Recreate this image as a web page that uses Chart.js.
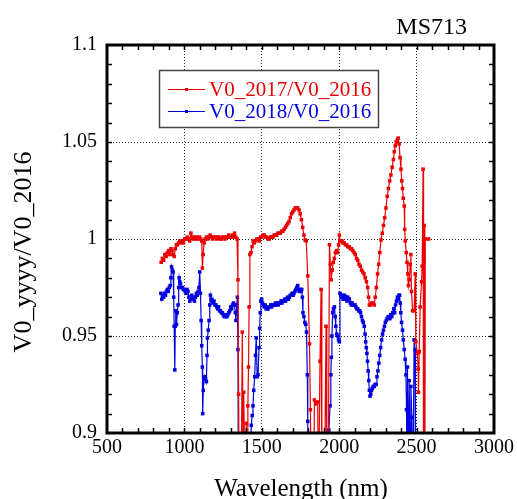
<!DOCTYPE html>
<html>
<head>
  <title>MS713</title>
  <script src="https://cdn.jsdelivr.net/npm/chart.js"></script>
  <style>
    body { margin: 0; background: #fff; }
  </style>
</head>
<body>
  <canvas id="chart" width="517" height="499"></canvas>

  <script>

// V0_2017 / V0_2016 ratio (values under 0.9 fall off the bottom of the plot)
const wl2017 = [850, 858, 866, 874, 882, 890, 898, 906, 913, 920, 927, 934, 941, 948, 955, 962, 970, 978, 986, 994,
  1002, 1010, 1018, 1026, 1034, 1042, 1050, 1058, 1066, 1074, 1082, 1090, 1098, 1106, 1112, 1116, 1121, 1127, 1134, 1142,
  1150, 1158, 1166, 1174, 1182, 1190, 1198, 1206, 1214, 1222, 1230, 1238, 1246, 1254, 1262, 1270, 1278, 1286, 1294, 1302,
  1310, 1318, 1324, 1332, 1340, 1346, 1350, 1356, 1366, 1374, 1380, 1383, 1391, 1400, 1406, 1410, 1414, 1418, 1423, 1430,
  1437, 1444, 1452, 1460, 1468, 1476, 1484, 1492, 1500, 1508, 1516, 1524, 1532, 1540, 1548, 1556, 1564, 1572, 1580, 1588,
  1596, 1604, 1612, 1620, 1628, 1636, 1644, 1652, 1660, 1668, 1676, 1684, 1692, 1700, 1708, 1716, 1724, 1732, 1740, 1748,
  1756, 1764, 1772, 1780, 1787, 1797, 1808, 1814, 1820, 1835, 1840, 1850, 1861, 1866, 1876, 1883, 1888, 1905, 1915, 1920,
  1930, 1937, 1943, 1948, 1955, 1962, 1969, 1976, 1983, 1990, 1996, 2001, 2006, 2012, 2018, 2025, 2032, 2040, 2048, 2056,
  2064, 2072, 2080, 2088, 2096, 2104, 2112, 2120, 2128, 2136, 2144, 2152, 2160, 2168, 2176, 2184, 2190, 2195, 2202, 2210,
  2218, 2226, 2233, 2240, 2248, 2255, 2262, 2270, 2278, 2286, 2294, 2302, 2310, 2318, 2326, 2334, 2342, 2350, 2356, 2362,
  2368, 2375, 2381, 2387, 2393, 2399, 2404, 2409, 2414, 2420, 2423, 2427, 2433, 2438, 2443, 2447, 2453, 2459, 2463, 2467,
  2474, 2484, 2491, 2495, 2505, 2510, 2512, 2517, 2523, 2532, 2536, 2542, 2545, 2549, 2553, 2556, 2578];
const ratio2017 = [0.988, 0.990, 0.989, 0.992, 0.991, 0.993, 0.994, 0.992, 0.995, 0.994, 0.992, 0.991, 0.995, 0.997, 0.997, 0.998, 0.999, 0.998, 0.999, 0.998,
  1.000, 1.000, 1.001, 1.000, 0.999, 1.003, 1.001, 1.000, 1.001, 1.000, 1.001, 1.000, 1.001, 1.000, 0.999, 0.985, 0.992, 0.998, 1.000, 1.001,
  1.000, 1.001, 1.002, 1.001, 1.000, 1.001, 1.001, 1.000, 1.001, 1.001, 1.000, 1.000, 1.001, 1.001, 1.000, 1.001, 1.001, 1.002, 1.001, 1.001,
  1.002, 1.001, 1.003, 1.001, 1.000, 0.979, 0.920, 0.850, 0.860, 0.952, 0.880, 0.921, 0.880, 0.905, 0.870, 0.914, 0.934, 0.965, 0.992, 0.993,
  0.996, 0.999, 0.998, 0.999, 1.000, 1.000, 0.999, 1.001, 1.001, 1.002, 1.002, 1.001, 1.001, 1.000, 1.000, 1.001, 1.001, 1.001, 1.002, 1.002,
  1.002, 1.003, 1.003, 1.003, 1.004, 1.004, 1.005, 1.006, 1.007, 1.008, 1.009, 1.011, 1.013, 1.014, 1.015, 1.016, 1.016, 1.016, 1.015, 1.013,
  1.010, 1.006, 1.002, 0.9995, 0.999, 0.981, 0.946, 0.912, 0.860, 0.860, 0.917, 0.915, 0.916, 0.860, 0.937, 0.974, 0.860, 0.870, 0.955, 0.870,
  0.880, 0.997, 0.987, 0.979, 0.984, 0.988, 0.990, 0.993, 0.994, 0.993, 0.997, 1.002, 0.999, 0.999, 0.999, 0.998, 0.998, 0.997, 0.997, 0.996,
  0.996, 0.995, 0.995, 0.994, 0.993, 0.992, 0.990, 0.989, 0.987, 0.986, 0.984, 0.983, 0.982, 0.980, 0.978, 0.975, 0.970, 0.966, 0.966, 0.967,
  0.967, 0.966, 0.970, 0.975, 0.982, 0.987, 0.993, 0.9995, 1.003, 1.007, 1.011, 1.016, 1.022, 1.026, 1.030, 1.033, 1.037, 1.041, 1.045, 1.048,
  1.050, 1.051, 1.052, 1.049, 1.042, 1.036, 1.030, 1.026, 1.021, 1.017, 1.005, 0.999, 0.993, 0.988, 0.982, 0.976, 0.979, 0.987, 0.992, 0.973,
  0.963, 0.963, 0.982, 0.947, 0.941, 0.933, 0.921, 0.942, 0.965, 0.978, 0.986, 1.036, 0.850, 1.007, 0.850, 1.000, 1.000];

// V0_2018 / V0_2016 ratio
const wl2018 = [848, 854, 860, 866, 872, 878, 884, 890, 896, 902, 908, 913, 917, 922, 927, 931, 934, 938, 941, 944,
  949, 954, 959, 963, 966, 970, 975, 981, 987, 993, 999, 1005, 1011, 1017, 1023, 1029, 1035, 1041, 1047, 1053,
  1059, 1065, 1071, 1077, 1083, 1089, 1094, 1099, 1104, 1108, 1112, 1116, 1118, 1122, 1127, 1132, 1137, 1142, 1146, 1149,
  1154, 1159, 1164, 1168, 1173, 1179, 1185, 1191, 1197, 1203, 1209, 1215, 1221, 1227, 1233, 1239, 1245, 1251, 1257, 1263,
  1269, 1275, 1281, 1287, 1293, 1299, 1305, 1311, 1317, 1323, 1329, 1333, 1338, 1342, 1346, 1349, 1365, 1420, 1432, 1438,
  1443, 1448, 1454, 1459, 1464, 1470, 1476, 1482, 1486, 1490, 1494, 1499, 1504, 1510, 1516, 1522, 1528, 1534, 1540, 1546,
  1552, 1558, 1564, 1570, 1576, 1582, 1588, 1594, 1600, 1606, 1612, 1618, 1624, 1630, 1636, 1642, 1648, 1654, 1660, 1666,
  1672, 1678, 1684, 1690, 1696, 1702, 1708, 1714, 1720, 1726, 1732, 1737, 1742, 1748, 1754, 1758, 1762, 1766, 1772, 1778,
  1784, 1789, 1794, 1797, 1800, 1860, 1925, 1933, 1941, 1946, 1949, 1953, 1958, 1963, 1969, 1974, 1978, 1984, 1990, 1996,
  2001, 2005, 2010, 2015, 2020, 2025, 2030, 2035, 2040, 2045, 2050, 2055, 2060, 2066, 2072, 2078, 2084, 2090, 2096, 2102,
  2108, 2114, 2120, 2126, 2132, 2138, 2144, 2150, 2156, 2162, 2167, 2171, 2175, 2179, 2183, 2187, 2191, 2195, 2199, 2204,
  2209, 2214, 2220, 2226, 2232, 2238, 2244, 2250, 2256, 2262, 2268, 2274, 2280, 2286, 2292, 2298, 2304, 2310, 2316, 2322,
  2328, 2334, 2340, 2346, 2352, 2358, 2364, 2370, 2376, 2381, 2386, 2390, 2394, 2398, 2403, 2409, 2414, 2420, 2426, 2431,
  2435, 2438, 2441, 2446, 2452, 2458, 2463, 2469, 2476, 2484, 2490, 2493];
const ratio2018 = [0.972, 0.969, 0.971, 0.970, 0.972, 0.971, 0.973, 0.974, 0.973, 0.975, 0.976, 0.980, 0.9857, 0.984, 0.983, 0.970, 0.955, 0.9325, 0.955, 0.963,
  0.956, 0.962, 0.966, 0.975, 0.980, 0.978, 0.977, 0.975, 0.975, 0.974, 0.974, 0.973, 0.972, 0.974, 0.973, 0.970, 0.968, 0.970, 0.971, 0.969,
  0.970, 0.968, 0.970, 0.972, 0.971, 0.973, 0.975, 0.983, 0.972, 0.958, 0.945, 0.934, 0.910, 0.922, 0.928, 0.929, 0.928, 0.9265, 0.940, 0.949,
  0.953, 0.958, 0.966, 0.971, 0.969, 0.968, 0.967, 0.968, 0.966, 0.966, 0.965, 0.964, 0.965, 0.963, 0.963, 0.962, 0.962, 0.961, 0.960, 0.961,
  0.960, 0.960, 0.961, 0.962, 0.963, 0.965, 0.964, 0.966, 0.967, 0.966, 0.962, 0.958, 0.966, 0.970, 0.943, 0.860, 0.860, 0.860, 0.904, 0.909,
  0.914, 0.922, 0.929, 0.940, 0.949, 0.929, 0.930, 0.944, 0.954, 0.962, 0.968, 0.969, 0.967, 0.966, 0.965, 0.966, 0.964, 0.965, 0.964, 0.965,
  0.965, 0.966, 0.965, 0.966, 0.966, 0.966, 0.967, 0.966, 0.967, 0.966, 0.967, 0.967, 0.968, 0.967, 0.968, 0.968, 0.969, 0.968, 0.969, 0.970,
  0.969, 0.970, 0.971, 0.971, 0.972, 0.971, 0.972, 0.973, 0.974, 0.975, 0.976, 0.974, 0.973, 0.974, 0.973, 0.974, 0.970, 0.962, 0.960, 0.957,
  0.956, 0.952, 0.930, 0.906, 0.860, 0.860, 0.870, 0.9015, 0.914, 0.930, 0.939, 0.950, 0.962, 0.964, 0.965, 0.960, 0.955, 0.951, 0.950, 0.948,
  0.947, 0.972, 0.971, 0.970, 0.971, 0.969, 0.970, 0.971, 0.969, 0.970, 0.968, 0.970, 0.969, 0.969, 0.967, 0.966, 0.967, 0.966, 0.966, 0.966,
  0.965, 0.964, 0.964, 0.963, 0.963, 0.962, 0.960, 0.958, 0.957, 0.955, 0.951, 0.947, 0.944, 0.941, 0.937, 0.932, 0.927, 0.922, 0.919, 0.920,
  0.922, 0.923, 0.924, 0.924, 0.925, 0.925, 0.929, 0.932, 0.936, 0.940, 0.944, 0.948, 0.951, 0.953, 0.955, 0.957, 0.958, 0.959, 0.960, 0.959,
  0.959, 0.961, 0.960, 0.962, 0.964, 0.962, 0.966, 0.968, 0.970, 0.969, 0.971, 0.971, 0.967, 0.962, 0.957, 0.953, 0.948, 0.943, 0.938, 0.930,
  0.912, 0.870, 0.934, 0.870, 0.927, 0.880, 0.924, 0.908, 0.870, 0.948, 0.943, 0.860];

const xTicks = [500, 1000, 1500, 2000, 2500, 3000];
const yTicks = [0.9, 0.95, 1, 1.05, 1.1];
const seriesLabels = ['V0_2017/V0_2016', 'V0_2018/V0_2016'];
const seriesColors = ['rgb(235,0,0)', 'rgb(0,0,225)'];

const serif = "'Liberation Serif', 'Times New Roman', serif";

function toPoints(xs, ys) {
  return xs.map((x, i) => ({ x: x, y: ys[i] }));
}

// frame, inward minor ticks, legend box, titles
const decorations = {
  id: 'decorations',
  afterDatasetsDraw(chart) {
    const { ctx, chartArea: a, scales: { x, y } } = chart;
    ctx.save();
    ctx.strokeStyle = '#000';
    ctx.lineWidth = 1.5;
    ctx.beginPath();
    for (let v = 600; v < 3000; v += 100) {
      const px = Math.round(x.getPixelForValue(v)) + 0.5;
      ctx.moveTo(px, a.bottom); ctx.lineTo(px, a.bottom - 5);
      ctx.moveTo(px, a.top); ctx.lineTo(px, a.top + 5);
    }
    for (let i = 1; i < 20; i++) {
      const py = Math.round(y.getPixelForValue(0.9 + i * 0.01)) + 0.5;
      ctx.moveTo(a.left, py); ctx.lineTo(a.left + 5, py);
      ctx.moveTo(a.right, py); ctx.lineTo(a.right - 5, py);
    }
    ctx.stroke();
    ctx.lineWidth = 3;
    ctx.strokeRect(a.left, a.top, a.right - a.left, a.bottom - a.top);
    ctx.restore();
  },
  afterDraw(chart) {
    const { ctx } = chart;
    ctx.save();

    // legend
    ctx.fillStyle = '#fff';
    ctx.fillRect(159, 70, 219, 58);
    ctx.strokeStyle = '#444';
    ctx.lineWidth = 1.5;
    ctx.strokeRect(159.5, 70.5, 219, 57);
    ctx.font = '21px ' + serif;
    ctx.textBaseline = 'middle';
    ctx.textAlign = 'left';
    chart.data.datasets.forEach((ds, i) => {
      const ly = 89 + i * 22;
      ctx.strokeStyle = ds.borderColor;
      ctx.lineWidth = 1.2;
      ctx.beginPath();
      ctx.moveTo(168, ly + 0.5); ctx.lineTo(205, ly + 0.5);
      ctx.stroke();
      ctx.fillStyle = ds.borderColor;
      ctx.fillRect(185, ly - 1, 3, 3);
      ctx.fillText(ds.label, 209, ly + 1);
    });

    // corner title
    ctx.fillStyle = '#000';
    ctx.font = '24px ' + serif;
    ctx.textAlign = 'right';
    ctx.textBaseline = 'alphabetic';
    ctx.fillText('MS713', 467, 34);

    // axis titles
    ctx.font = '25px ' + serif;
    ctx.textAlign = 'center';
    ctx.fillText('Wavelength (nm)', 301, 496);
    ctx.translate(31, 252);
    ctx.rotate(-Math.PI / 2);
    ctx.font = '26px ' + serif;
    ctx.fillText('V0_yyyy/V0_2016', 0, 0);
    ctx.restore();
  }
};

const ctx = document.getElementById('chart').getContext('2d');

new Chart(ctx, {
  type: 'scatter',
  data: {
    datasets: [
      {
        label: seriesLabels[0],
        data: toPoints(wl2017, ratio2017),
        borderColor: seriesColors[0],
        backgroundColor: seriesColors[0],
        showLine: true,
        borderWidth: 1.2,
        pointStyle: 'rect',
        pointRadius: 2.5,
        pointBorderWidth: 0
      },
      {
        label: seriesLabels[1],
        data: toPoints(wl2018, ratio2018),
        borderColor: seriesColors[1],
        backgroundColor: seriesColors[1],
        showLine: true,
        borderWidth: 1.2,
        pointStyle: 'rect',
        pointRadius: 2.5,
        pointBorderWidth: 0
      }
    ]
  },
  options: {
    responsive: false,
    animation: false,
    layout: { padding: { top: 45, right: 22, left: 0, bottom: 0 } },
    plugins: {
      legend: { display: false },
      tooltip: { enabled: false }
    },
    scales: {
      x: {
        type: 'linear',
        position: 'bottom',
        min: 500,
        max: 3000,
        afterBuildTicks: s => { s.ticks = xTicks.map(v => ({ value: v })); },
        afterFit: s => { s.height = 66; },
        ticks: {
          color: '#000',
          font: { family: serif, size: 20 },
          padding: 3,
          maxRotation: 0,
          callback: v => String(v)
        },
        grid: { color: '#222', lineWidth: 1, drawTicks: false },
        border: { display: false, dash: [1, 2] }
      },
      y: {
        type: 'linear',
        position: 'left',
        min: 0.9,
        max: 1.1,
        afterBuildTicks: s => { s.ticks = yTicks.map(v => ({ value: v })); },
        afterFit: s => { s.width = 107; },
        ticks: {
          color: '#000',
          font: { family: serif, size: 20 },
          padding: 10,
          callback: v => String(+v.toFixed(2))
        },
        grid: { color: '#222', lineWidth: 1, drawTicks: false },
        border: { display: false, dash: [1, 2] }
      }
    }
  },
  plugins: [decorations]
});
  </script>
</body>
</html>
